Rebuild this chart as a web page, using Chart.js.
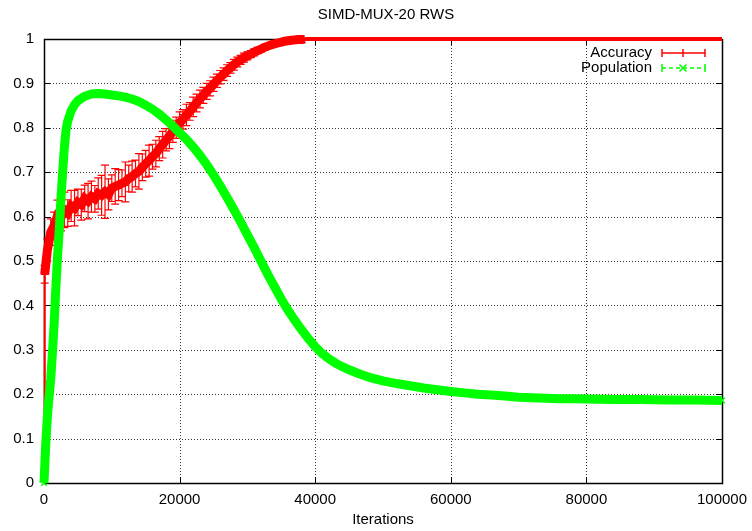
<!DOCTYPE html>
<html>
<head>
<meta charset="utf-8">
<script src="https://cdn.jsdelivr.net/npm/chart.js@4.4.1/dist/chart.umd.min.js"></script>
<style>
html,body{margin:0;padding:0;background:#fff;}
canvas{display:block;}
</style>
</head>
<body>
<canvas id="c" width="752" height="531"></canvas>
<script>
// ---------------- data ----------------
const chartTitle = 'SIMD-MUX-20 RWS';
const xAxisLabel = 'Iterations';
const seriesNames = ['Accuracy', 'Population'];
const xTickValues = [0, 20000, 40000, 60000, 80000, 100000];
const yTickValues = [0, 0.1, 0.2, 0.3, 0.4, 0.5, 0.6, 0.7, 0.8, 0.9, 1];

const accIter = [0, 100,
  500, 1000, 1500, 2000, 2500, 3000, 3500, 4000, 4500, 5000,
  5500, 6000, 6500, 7000, 7500, 8000, 8500, 9000, 9500, 10000,
  10500, 11000, 11500, 12000, 12500, 13000, 13500, 14000, 14500, 15000,
  15500, 16000, 16500, 17000, 17500, 18000, 18500, 19000, 19500, 20000,
  20500, 21000, 21500, 22000, 22500, 23000, 23500, 24000, 24500, 25000,
  25500, 26000, 26500, 27000, 27500, 28000, 28500, 29000, 29500, 30000,
  30500, 31000, 31500, 32000, 32500, 33000, 33500, 34000, 34500, 35000,
  35500, 36000, 36500, 37000, 37500, 38000, 38500, 39000, 39500, 40000,
  42000, 45000, 50000, 60000, 70000, 80000, 90000, 100000];
const accVal = [0.01, 0.47,
  0.525, 0.565, 0.580, 0.602, 0.598, 0.615, 0.608, 0.624, 0.619, 0.632,
  0.627, 0.641, 0.635, 0.645, 0.640, 0.652, 0.648, 0.656, 0.650, 0.664,
  0.668, 0.671, 0.675, 0.678, 0.686, 0.690, 0.697, 0.702, 0.711, 0.719,
  0.726, 0.735, 0.742, 0.753, 0.762, 0.773, 0.781, 0.792, 0.800, 0.811,
  0.819, 0.829, 0.837, 0.847, 0.856, 0.865, 0.873, 0.882, 0.889, 0.898,
  0.906, 0.914, 0.921, 0.929, 0.935, 0.942, 0.948, 0.953, 0.958, 0.962,
  0.966, 0.970, 0.974, 0.977, 0.981, 0.984, 0.987, 0.989, 0.991, 0.993,
  0.995, 0.996, 0.997, 0.998, 0.999, 0.999, 1.0, 1.0, 1.0, 1.0,
  1.0, 1.0, 1.0, 1.0, 1.0, 1.0, 1.0, 1.0];
const accErr = [0.005, 0.02,
  0.025, 0.03, 0.03, 0.035, 0.03, 0.04, 0.03, 0.035, 0.04, 0.03,
  0.035, 0.03, 0.04, 0.035, 0.03, 0.035, 0.045, 0.06, 0.035, 0.03,
  0.04, 0.035, 0.03, 0.045, 0.03, 0.035, 0.03, 0.04, 0.03, 0.03,
  0.035, 0.028, 0.03, 0.027, 0.03, 0.025, 0.028, 0.025, 0.024, 0.025,
  0.022, 0.024, 0.02, 0.022, 0.02, 0.02, 0.018, 0.018, 0.017, 0.016,
  0.015, 0.015, 0.014, 0.013, 0.012, 0.012, 0.011, 0.01, 0.01, 0.009,
  0.008, 0.008, 0.007, 0.006, 0.006, 0.005, 0.004, 0.004, 0.003, 0.003,
  0.002, 0.002, 0.002, 0.001, 0.001, 0.001, 0, 0, 0, 0,
  0, 0, 0, 0, 0, 0, 0, 0];

const popIter = [0, 250, 500, 750, 1000, 1250, 1500, 1750, 2000, 2250, 2500, 2750,
  3000, 3250, 3500, 4000, 4500, 5000,
  6000, 7000, 8000, 9000, 10000, 11000, 12000, 13000, 14000, 15000,
  16000, 17000, 18000, 19000, 20000, 21000, 22000, 23000, 24000, 25000,
  26000, 27000, 28000, 29000, 30000, 31000, 32000, 33000, 34000, 35000,
  36000, 37000, 38000, 39000, 40000, 41000, 42000, 43000, 44000, 45000,
  46000, 47000, 48000, 49000, 50000,
  52000, 54000, 56000, 58000, 60000, 62000, 64000, 66000, 68000, 70000,
  72000, 74000, 76000, 78000, 80000,
  84000, 88000, 92000, 96000, 100000];
const popVal = [0.0, 0.085, 0.15, 0.195, 0.235, 0.295, 0.36, 0.44, 0.51, 0.57, 0.64, 0.70,
  0.755, 0.795, 0.815, 0.838, 0.852, 0.861,
  0.871, 0.876, 0.877, 0.876, 0.874, 0.872, 0.869, 0.865, 0.859, 0.851,
  0.842, 0.831, 0.818, 0.804, 0.789, 0.774, 0.757, 0.738, 0.717, 0.694,
  0.669, 0.643, 0.616, 0.588, 0.559, 0.530, 0.500, 0.470, 0.442, 0.414,
  0.389, 0.366, 0.345, 0.325, 0.307, 0.292, 0.280, 0.270, 0.262, 0.255,
  0.249, 0.243, 0.238, 0.234, 0.230,
  0.224, 0.219, 0.214, 0.210, 0.206, 0.203, 0.200, 0.198, 0.196, 0.193,
  0.192, 0.191, 0.190, 0.190, 0.189,
  0.188, 0.188, 0.187, 0.187, 0.186];

const RED = '#ff0000';
const GREEN = '#00ff00';
const SERIES_COLORS = [RED, GREEN];
const FONT = 'Liberation Sans, Arial, sans-serif';

// ---------------- plugins ----------------
const framePlugin = {
  id: 'frame',
  beforeDatasetsDraw(chart) {
    const {ctx, chartArea: a, scales} = chart;
    ctx.save();
    // dotted grid
    ctx.strokeStyle = 'rgba(0,0,0,0.8)';
    ctx.lineWidth = 1;
    ctx.setLineDash([1, 2]);
    ctx.beginPath();
    scales.x.ticks.forEach(t => {
      const px = Math.round(scales.x.getPixelForValue(t.value)) + 0.5;
      ctx.moveTo(px, a.top); ctx.lineTo(px, a.bottom);
    });
    scales.y.ticks.forEach(t => {
      const py = Math.round(scales.y.getPixelForValue(t.value)) + 0.5;
      ctx.moveTo(a.left, py); ctx.lineTo(a.right, py);
    });
    ctx.stroke();
    ctx.setLineDash([]);
    // inward tick marks
    ctx.strokeStyle = '#000';
    ctx.beginPath();
    const L = 6;
    scales.x.ticks.forEach(t => {
      const px = Math.round(scales.x.getPixelForValue(t.value)) + 0.5;
      ctx.moveTo(px, a.bottom); ctx.lineTo(px, a.bottom - L);
      ctx.moveTo(px, a.top); ctx.lineTo(px, a.top + L);
    });
    scales.y.ticks.forEach(t => {
      const py = Math.round(scales.y.getPixelForValue(t.value)) + 0.5;
      ctx.moveTo(a.left, py); ctx.lineTo(a.left + L, py);
      ctx.moveTo(a.right, py); ctx.lineTo(a.right - L, py);
    });
    ctx.stroke();
    ctx.lineWidth = 1.5;
    ctx.strokeRect(Math.round(a.left) + 0.5, Math.round(a.top) + 0.5,
      Math.round(a.right - a.left), Math.round(a.bottom - a.top));
    ctx.restore();
  }
};

const errorBarPlugin = {
  id: 'errbars',
  afterDatasetDraw(chart, args) {
    const ds = chart.data.datasets[args.index];
    if (!ds.errors) return;
    const {ctx, chartArea: a, scales} = chart;
    ctx.save();
    ctx.beginPath();
    ctx.rect(a.left - 4, a.top - 4, a.right - a.left + 8, a.bottom - a.top + 4);
    ctx.clip();
    ctx.strokeStyle = ds.borderColor;
    ctx.lineWidth = 1.2;
    ctx.beginPath();
    ds.data.forEach((p, i) => {
      const e = ds.errors[i];
      if (!e) return;
      const px = scales.x.getPixelForValue(p.x);
      const y1 = scales.y.getPixelForValue(p.y - e);
      const y2 = scales.y.getPixelForValue(p.y + e);
      ctx.moveTo(px, y1); ctx.lineTo(px, y2);
      ctx.moveTo(px - 4, y1); ctx.lineTo(px + 4, y1);
      ctx.moveTo(px - 4, y2); ctx.lineTo(px + 4, y2);
    });
    ctx.stroke();
    ctx.restore();
  }
};

const titleLegendPlugin = {
  id: 'titleLegend',
  afterDraw(chart) {
    const {ctx, chartArea: a} = chart;
    ctx.save();
    ctx.fillStyle = '#000';
    ctx.font = '15px ' + FONT;
    ctx.textAlign = 'center';
    ctx.textBaseline = 'middle';
    ctx.fillText(chartTitle, (a.left + a.right) / 2 + 3, 15);

    const rows = [53, 68];
    const x0 = 662, x1 = 705, xm = 683;
    chart.data.datasets.forEach((ds, i) => {
      const y = rows[i];
      ctx.fillStyle = '#000';
      ctx.textAlign = 'right';
      ctx.fillText(ds.label, 652, y);
      ctx.strokeStyle = SERIES_COLORS[i];
      ctx.lineWidth = 1.5;
      ctx.setLineDash(i === 1 ? [4, 3] : []);
      ctx.beginPath();
      ctx.moveTo(x0, y); ctx.lineTo(x1, y);
      ctx.stroke();
      ctx.setLineDash([]);
      ctx.beginPath();
      ctx.moveTo(x0, y - 4); ctx.lineTo(x0, y + 4);
      ctx.moveTo(x1, y - 4); ctx.lineTo(x1, y + 4);
      if (i === 0) {
        ctx.moveTo(xm, y - 4); ctx.lineTo(xm, y + 4);
      } else {
        ctx.moveTo(xm - 3.5, y - 3.5); ctx.lineTo(xm + 3.5, y + 3.5);
        ctx.moveTo(xm - 3.5, y + 3.5); ctx.lineTo(xm + 3.5, y - 3.5);
      }
      ctx.stroke();
    });
    ctx.restore();
  }
};

// ---------------- chart ----------------
const accData = accIter.map((x, i) => ({x, y: accVal[i]}));
const popData = popIter.map((x, i) => ({x, y: popVal[i]}));

new Chart(document.getElementById('c'), {
  type: 'line',
  data: {
    datasets: [
      {
        label: seriesNames[0],
        data: accData,
        errors: accErr,
        borderColor: RED,
        backgroundColor: RED,
        borderWidth: 8,
        segment: {
          borderWidth: c => (c.p0.parsed.y >= 1 && c.p1.parsed.y >= 1) ? 4 : (c.p0.parsed.x < 100 ? 2 : 9)
        },
        pointStyle: 'cross',
        pointRadius: c => (c.raw && c.raw.y >= 1) ? 0 : 4,
        pointBorderWidth: 1.2,
        pointHoverRadius: 0,
        tension: 0,
        order: 1,
        clip: {left: 4, top: 4, right: 4, bottom: 0}
      },
      {
        label: seriesNames[1],
        data: popData,
        borderColor: GREEN,
        backgroundColor: GREEN,
        borderWidth: 9,
        pointStyle: 'crossRot',
        pointRadius: 4,
        pointBorderWidth: 1.5,
        pointHoverRadius: 0,
        tension: 0,
        order: 0,
        clip: {left: 6, top: 4, right: 4, bottom: 4}
      }
    ]
  },
  options: {
    responsive: false,
    devicePixelRatio: 1,
    animation: false,
    events: [],
    layout: {padding: {left: 0, right: 30, top: 39, bottom: 0}},
    plugins: {
      legend: {display: false},
      title: {display: false},
      tooltip: {enabled: false}
    },
    scales: {
      x: {
        type: 'linear',
        min: 0,
        max: 100000,
        afterBuildTicks: s => { s.ticks = xTickValues.map(v => ({value: v})); },
        afterFit: s => { s.height = 48; s.paddingLeft = 0; s.paddingRight = 0; },
        ticks: {
          color: '#000',
          font: {family: FONT, size: 15},
          padding: 8,
          maxRotation: 0,
          callback: v => String(v)
        },
        grid: {display: false, drawTicks: false, tickLength: 0},
        border: {display: false},
        title: {
          display: true,
          text: xAxisLabel,
          color: '#000',
          font: {family: FONT, size: 15},
          padding: {top: 0, bottom: 2}
        }
      },
      y: {
        type: 'linear',
        min: 0,
        max: 1,
        afterBuildTicks: s => { s.ticks = yTickValues.map(v => ({value: v})); },
        afterFit: s => { s.width = 44; s.paddingTop = 0; s.paddingBottom = 0; },
        ticks: {
          color: '#000',
          font: {family: FONT, size: 15},
          padding: 10,
          callback: v => String(Math.round(v * 10) / 10)
        },
        grid: {display: false, drawTicks: false, tickLength: 0},
        border: {display: false}
      }
    }
  },
  plugins: [framePlugin, errorBarPlugin, titleLegendPlugin]
});
</script>
</body>
</html>
